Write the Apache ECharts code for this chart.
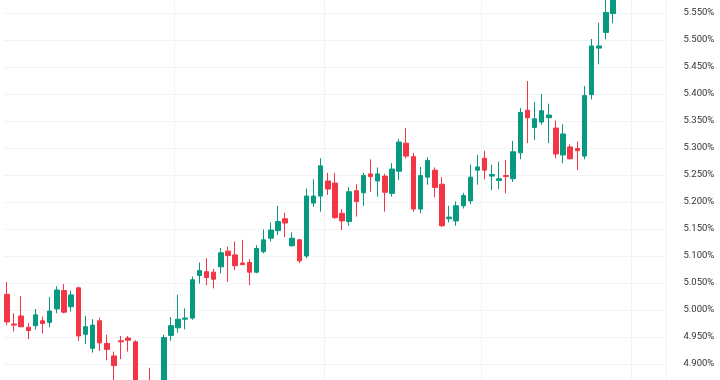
<!DOCTYPE html>
<html>
<head>
<meta charset="utf-8">
<style>
  html, body { margin: 0; padding: 0; background: #fff; }
  #chart { width: 720px; height: 380px; }
</style>
<script src="https://cdn.jsdelivr.net/npm/echarts@6/dist/echarts.min.js"></script>
</head>
<body>
<div id="chart"></div>
<script>
// yield candles (percent)
const openVals = [
  5.029, 4.974, 4.989, 4.968, 4.971, 4.980, 4.977, 5.002, 5.036, 5.006,
  5.041, 4.955, 4.929, 4.980, 4.938, 4.915, 4.943, 4.948, 4.941, 4.860,
  4.862, 4.850, 4.855, 4.953, 4.967, 4.983, 4.985, 5.064, 5.071, 5.070,
  5.080, 5.109, 5.102, 5.087, 5.088, 5.070, 5.108, 5.133, 5.147, 5.169,
  5.119, 5.130, 5.100, 5.198, 5.211, 5.239, 5.235, 5.179, 5.164, 5.221,
  5.217, 5.252, 5.239, 5.248, 5.216, 5.257, 5.309, 5.284, 5.187, 5.246,
  5.259, 5.233, 5.169, 5.165, 5.193, 5.202, 5.259, 5.281, 5.248, 5.240,
  5.249, 5.243, 5.291, 5.370, 5.338, 5.348, 5.356, 5.337, 5.287, 5.302,
  5.299, 5.285, 5.399, 5.485, 5.514, 5.549
];
const closeVals = [
  4.978, 4.972, 4.969, 4.962, 4.991, 4.975, 4.998, 5.037, 4.996, 5.028,
  4.952, 4.969, 4.972, 4.939, 4.927, 4.897, 4.941, 4.944, 4.858, 4.850,
  4.852, 4.862, 4.949, 4.971, 4.983, 4.985, 5.056, 5.073, 5.060, 5.057,
  5.106, 5.101, 5.082, 5.084, 5.070, 5.114, 5.130, 5.148, 5.164, 5.161,
  5.133, 5.091, 5.211, 5.211, 5.267, 5.224, 5.171, 5.165, 5.219, 5.201,
  5.249, 5.247, 5.252, 5.218, 5.261, 5.311, 5.285, 5.187, 5.249, 5.277,
  5.227, 5.156, 5.172, 5.193, 5.212, 5.246, 5.265, 5.259, 5.251, 5.243,
  5.247, 5.293, 5.366, 5.356, 5.354, 5.369, 5.361, 5.289, 5.326, 5.280,
  5.295, 5.397, 5.489, 5.489, 5.551, 5.590
];
const lowVals = [
  4.972, 4.960, 4.968, 4.946, 4.964, 4.957, 4.968, 4.994, 4.994, 4.997,
  4.943, 4.937, 4.921, 4.924, 4.907, 4.865, 4.909, 4.923, 4.850, 4.845,
  4.840, 4.840, 4.850, 4.943, 4.958, 4.964, 4.982, 5.049, 5.046, 5.040,
  5.068, 5.052, 5.074, 5.083, 5.046, 5.068, 5.105, 5.127, 5.139, 5.135,
  5.117, 5.087, 5.096, 5.191, 5.182, 5.213, 5.169, 5.148, 5.156, 5.173,
  5.193, 5.219, 5.210, 5.182, 5.210, 5.241, 5.281, 5.182, 5.179, 5.232,
  5.209, 5.154, 5.162, 5.156, 5.188, 5.196, 5.232, 5.242, 5.222, 5.224,
  5.216, 5.237, 5.279, 5.309, 5.315, 5.343, 5.309, 5.281, 5.272, 5.279,
  5.259, 5.279, 5.390, 5.455, 5.501, 5.531
];
const highVals = [
  5.052, 4.994, 5.026, 4.976, 5.002, 4.988, 5.024, 5.044, 5.048, 5.036,
  5.043, 4.989, 4.983, 4.986, 4.954, 4.923, 4.952, 4.952, 4.944, 4.865,
  4.893, 4.868, 4.954, 4.987, 5.028, 5.003, 5.062, 5.088, 5.096, 5.076,
  5.115, 5.117, 5.127, 5.130, 5.094, 5.120, 5.149, 5.162, 5.193, 5.180,
  5.144, 5.131, 5.225, 5.242, 5.281, 5.254, 5.254, 5.187, 5.228, 5.233,
  5.254, 5.279, 5.264, 5.252, 5.272, 5.317, 5.337, 5.291, 5.265, 5.283,
  5.264, 5.246, 5.193, 5.201, 5.217, 5.269, 5.287, 5.295, 5.269, 5.275,
  5.278, 5.313, 5.374, 5.424, 5.385, 5.400, 5.382, 5.351, 5.344, 5.307,
  5.312, 5.415, 5.502, 5.532, 5.580, 5.600
];
// y tick range
const yMin = 4.85;
const yMax = 5.60;
const yStep = 0.05;
// bars of empty space right of the last candle
const padBars = 7;
// vertical grid line positions (category boundaries)
const vLines = [24, 45, 67, 88];

window.onload = function () {
    drawChart('chart');
}

function drawChart(id) {
    let chart = echarts.init(document.getElementById(id));
    let categories = openVals.map((v, i) => 'd' + (i + 1));
    let data = openVals.map((v, i) => [v, closeVals[i], lowVals[i], highVals[i]]);

    let option = {
        animation: false,
        backgroundColor: '#ffffff',
        grid: {
            left: 3.4,
            right: 720 - 3.4 - (categories.length + padBars) * 7.13,
            top: -14,
            bottom: -11,
            containLabel: false,
            outerBoundsMode: 'none'
        },
        xAxis: {
            type: 'category',
            data: categories,
            max: categories.length + padBars - 1,
            boundaryGap: true,
            axisLine: { show: false },
            axisTick: { show: false },
            axisLabel: { show: false },
            splitLine: {
                show: true,
                interval: function (index) {
                    return vLines.indexOf(index) >= 0;
                },
                lineStyle: { color: '#f2f3f6', width: 1 }
            }
        },
        yAxis: {
            type: 'value',
            position: 'right',
            min: yMin,
            max: yMax,
            interval: yStep,
            axisLine: { show: false },
            axisTick: { show: false },
            axisLabel: {
                margin: 17,
                color: '#333333',
                fontFamily: 'Roboto',
                fontSize: 9.5,
                formatter: function (v) {
                    return v.toFixed(3) + '%';
                }
            },
            splitLine: {
                show: true,
                lineStyle: { color: '#f2f3f6', width: 1 }
            }
        },
        series: [
            {
                type: 'candlestick',
                data: data,
                barWidth: 5,
                itemStyle: {
                    color: '#089981',
                    color0: '#f23645',
                    borderColor: '#089981',
                    borderColor0: '#f23645',
                    borderWidth: 1
                }
            }
        ]
    };

    chart.setOption(option);
    return chart;
}
</script>
</body>
</html>
